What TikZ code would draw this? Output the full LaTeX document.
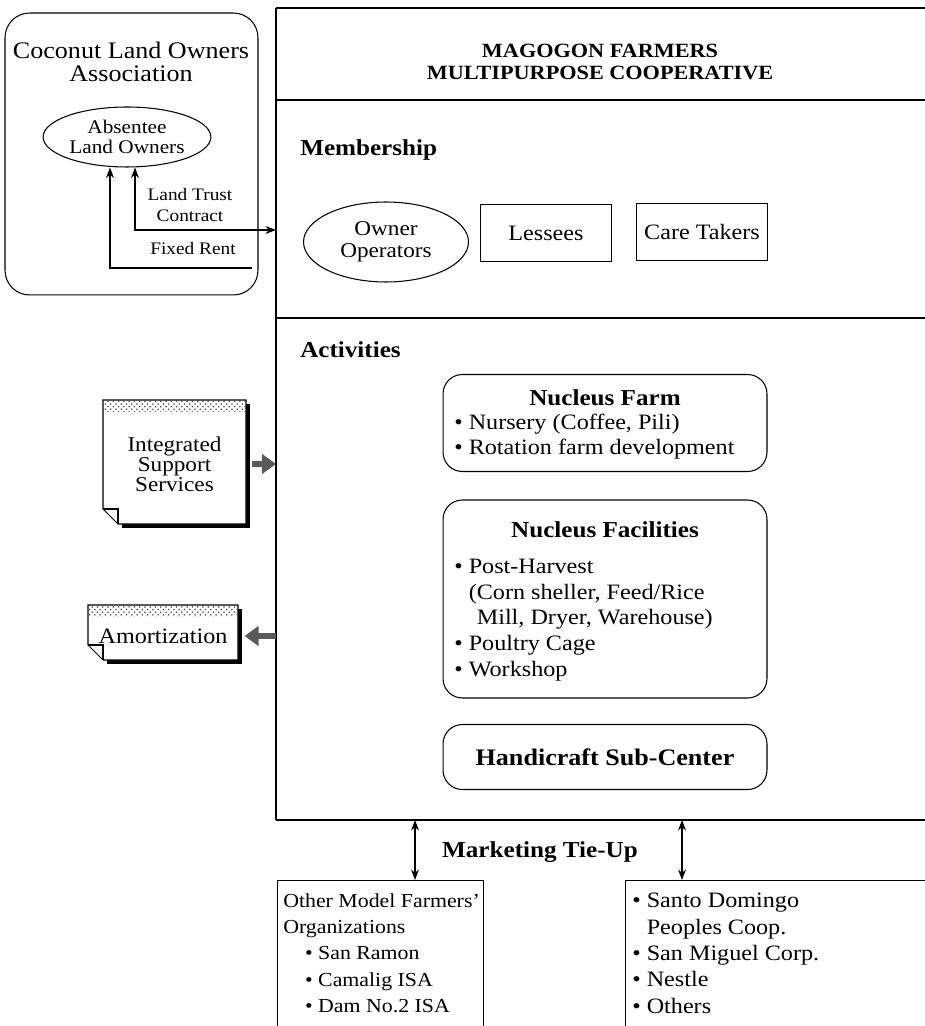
\documentclass[tikz,border=0pt]{standalone}
\usepackage{fontspec}
\setmainfont{Liberation Serif}[FakeStretch=1.1]
\usetikzlibrary{shapes.geometric,arrows.meta,positioning,patterns}

\begin{document}
\begin{tikzpicture}[x=0.02cm,y=-0.02cm,line width=0.6pt,
  every node/.style={inner sep=1pt},
  lbl/.style={font=\fontsize{12.5}{14.2}\selectfont, align=center},
  hd/.style={font=\fontsize{13}{15}\selectfont\bfseries, align=center},
  sml/.style={font=\fontsize{10}{11.5}\selectfont, align=center},
  membox/.style={draw, minimum width=2.62cm, minimum height=1.14cm, lbl},
  actbox/.style={draw, rounded corners=11pt, minimum width=6.48cm},
  docsh/.style={minimum width=2.9cm, lbl},
  fat/.style={line width=3.5pt, black!65, -{Triangle[length=8pt,width=11pt]}},
  tip/.style={-{Stealth[length=6pt,width=4.5pt]}},
  dtip/.style={{Stealth[length=6pt,width=4.5pt]}-{Stealth[length=6pt,width=4.5pt]}}
]
\useasboundingbox (0,0) rectangle (924,1026);

% coconut land owners
\node[draw, rounded corners=14pt, minimum width=5.06cm, minimum height=5.64cm] (cla) at (131.5,154) {};
\node[lbl, font=\fontsize{13.5}{13.5}\selectfont] (clat) at (131,62) {Coconut Land Owners\\Association};
\node[draw, ellipse, minimum width=2.94cm, minimum height=1.2cm, font=\fontsize{11}{11.5}\selectfont, align=center] (abs) at (127,137) {Absentee\\Land Owners};
\node[sml] (ltc) at (190,205) {Land Trust\\Contract};
\node[sml] (fxr) at (193,248) {Fixed Rent};

% cooperative frame
\coordinate (cnw) at (276,8);
\coordinate (csw) at (276,820);
\draw (930,8) -- (cnw);
\draw[line width=1.5pt] (cnw) -- (csw);
\draw (csw) -- (930,820);
\draw (cnw |- 0,100) -- (930,100);
\draw (cnw |- 0,318) -- (930,318);
\node[hd, font=\fontsize{11.5}{13}\selectfont\bfseries] (mfmc) at (600,62) {MAGOGON FARMERS\\MULTIPURPOSE COOPERATIVE};

\coordinate (ltx) at (135,230);
\coordinate (frx) at (110,268);
\coordinate (frend) at (252,268);
\draw[dtip] (abs.south -| ltx) -- (ltx) -- (cnw |- ltx);
\draw[tip] (frend) -- (frx) -- (abs.south -| frx);

% membership
\node[hd, anchor=west] (mem) at (298,150) {Membership};
\node[draw, ellipse, minimum width=3.3cm, minimum height=1.6cm, lbl, font=\fontsize{12}{12.5}\selectfont] (own) at (386,242) {Owner\\Operators};
\node[membox] (les) at (546,233) {Lessees};
\node[membox] (ctk) at (702,232) {Care Takers};

% activities
\node[hd, anchor=west] (act) at (298,350) {Activities};
\node[actbox, minimum height=1.94cm] (nf) at (605,423) {};
\node[hd] (nft) at (605,398) {Nucleus Farm};
\node[lbl, align=left, anchor=west] (nfi) at (452,437) {\textbullet\ Nursery (Coffee, Pili)\\\textbullet\ Rotation farm development};
\node[actbox, minimum height=3.96cm] (nfc) at (605,599) {};
\node[hd] (nfct) at (605,530) {Nucleus Facilities};
\node[lbl, align=left, anchor=west, font=\fontsize{12.5}{14.6}\selectfont] (nfci) at (452,620) {\textbullet\ Post-Harvest\\\phantom{\textbullet\ }(Corn sheller, Feed/Rice\\\phantom{\textbullet\ (}Mill, Dryer, Warehouse)\\\textbullet\ Poultry Cage\\\textbullet\ Workshop};
\node[actbox, hd, font=\fontsize{13.5}{15}\selectfont\bfseries, minimum height=1.3cm] (hsc) at (605,757) {Handicraft Sub-Center};

% integrated support services
\fill (246,404) rectangle (250,528);
\fill (122,524) rectangle (250,528);
\draw[fill=white] (103,400) -- (246,400) -- (246,524) -- (118,524) -- (103,509) -- cycle;
\fill[pattern=crosshatch dots, pattern color=black!70] (103.5,400.5) rectangle (245.5,412);
\draw (103,509) -- (118,509) -- (118,524);
\node[docsh, minimum height=2.48cm, font=\fontsize{12}{11.3}\selectfont] (iss) at (174.5,464) {Integrated\\Support\\Services};
\draw[fat] ([xshift=0.08cm]iss.east) -- (cnw |- iss.east);

% amortization
\fill (238,609) rectangle (242,664);
\fill (107,660) rectangle (242,664);
\draw[fill=white] (88,605) -- (238,605) -- (238,660) -- (103,660) -- (88,645) -- cycle;
\fill[pattern=crosshatch dots, pattern color=black!70] (88.5,605.5) rectangle (237.5,616);
\draw (88,645) -- (103,645) -- (103,660);
\node[docsh, minimum width=3cm, minimum height=1.1cm] (amo) at (163,636) {Amortization};
\draw[fat] (cnw |- amo.east) -- ([xshift=0.12cm]amo.east);

% marketing tie-up
\node[hd] (mtu) at (540,852) {Marketing Tie-Up};
\node[draw, anchor=north west, minimum width=4.12cm, minimum height=4cm] (oth) at (277,880) {};
\node[draw, anchor=north west, minimum width=6.4cm, minimum height=4cm] (sdp) at (625,880) {};
\coordinate (mkl) at (415,820);
\coordinate (mkr) at (682,820);
\draw[dtip] (mkl) -- (oth.north -| mkl);
\draw[dtip] (mkr) -- (sdp.north -| mkr);
\node[lbl, align=left, anchor=north west, font=\fontsize{11.3}{15}\selectfont] (othl) at (281,891) {Other Model Farmers'\\Organizations\\\hspace*{1.1em}\textbullet\ San Ramon\\\hspace*{1.1em}\textbullet\ Camalig ISA\\\hspace*{1.1em}\textbullet\ Dam No.2 ISA};
\node[lbl, align=left, anchor=north west, font=\fontsize{12.5}{15}\selectfont] (sdpl) at (630,891) {\textbullet\ Santo Domingo\\\phantom{\textbullet\ }Peoples Coop.\\\textbullet\ San Miguel Corp.\\\textbullet\ Nestle\\\textbullet\ Others};
\end{tikzpicture}
\end{document}
